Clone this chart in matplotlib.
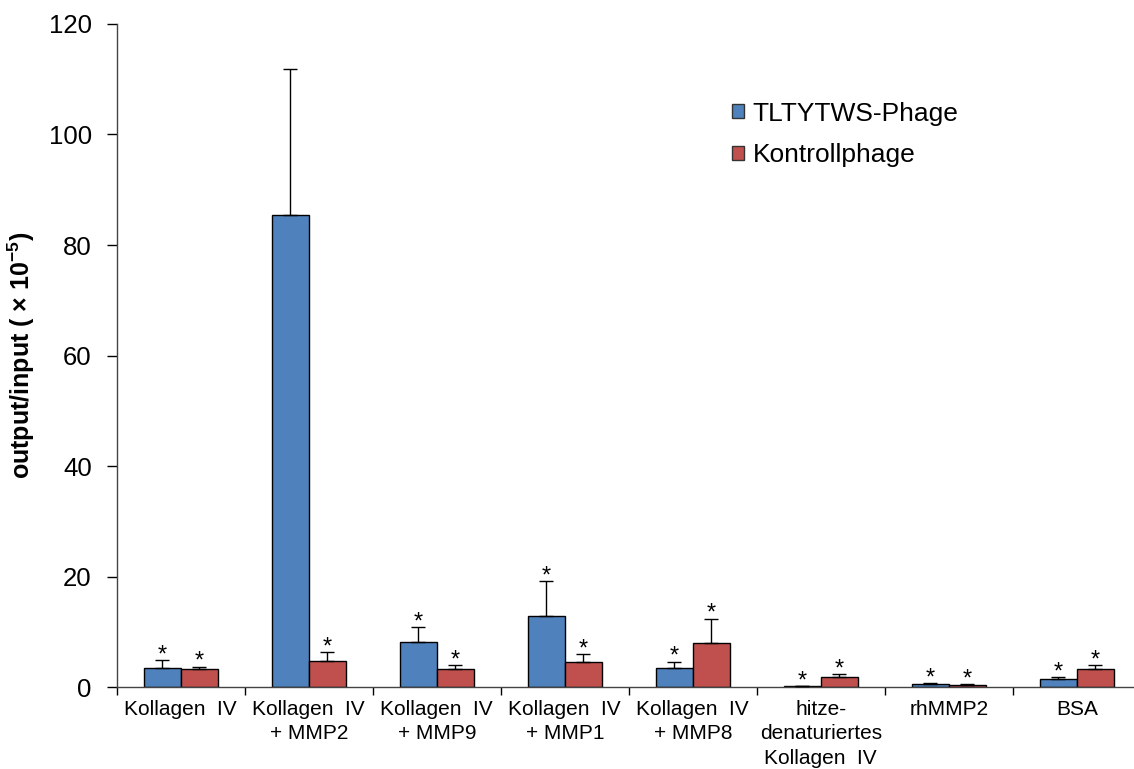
import matplotlib
matplotlib.use("Agg")
import matplotlib.pyplot as plt
import numpy as np
from matplotlib.patches import Patch

plt.rcParams['font.family'] = ['Liberation Sans', 'DejaVu Sans']
plt.rcParams['mathtext.fontset'] = 'custom'
plt.rcParams['mathtext.rm'] = 'Liberation Sans'
plt.rcParams['mathtext.bf'] = 'Liberation Sans:bold'

categories = ["Kollagen  IV", "Kollagen  IV\n+ MMP2", "Kollagen  IV\n+ MMP9",
              "Kollagen  IV\n+ MMP1", "Kollagen  IV\n+ MMP8",
              "hitze-\ndenaturiertes\nKollagen  IV", "rhMMP2", "BSA"]
tltytws = [3.5, 85.4, 8.2, 12.8, 3.5, 0.15, 0.6, 1.5]
tltytws_err = [1.4, 26.4, 2.6, 6.3, 1.1, 0.0, 0.1, 0.3]
tltytws_star = [True, False, True, True, True, True, True, True]
kontroll = [3.3, 4.8, 3.3, 4.6, 7.9, 1.9, 0.4, 3.3]
kontroll_err = [0.4, 1.6, 0.6, 1.3, 4.5, 0.4, 0.15, 0.6]
kontroll_star = [True, True, True, True, True, True, True, True]
series_names = ["TLTYTWS-Phage", "Kontrollphage"]
colors = ["#4F81BD", "#C0504D"]
yticks = [0, 20, 40, 60, 80, 100, 120]

fig = plt.figure(figsize=(11.34, 7.69), dpi=100)
ax = fig.add_axes([0.103, 0.1066, 0.903, 0.8622])

x = np.arange(len(categories))
w = 0.29
for vals, errs, stars, col, off in [(tltytws, tltytws_err, tltytws_star, colors[0], -w / 2),
                                    (kontroll, kontroll_err, kontroll_star, colors[1], w / 2)]:
    ax.bar(x + off, vals, width=w, color=col, edgecolor="black", linewidth=1.0, zorder=2)
    ax.errorbar(x + off, vals, yerr=[np.zeros(len(vals)), errs], fmt="none",
                ecolor="black", elinewidth=1.0, capsize=5, capthick=1.0, zorder=3)
    for xi, v, e, s in zip(x + off, vals, errs, stars):
        if s:
            ax.annotate("*", (xi, v + e), xytext=(0, -1), textcoords="offset points",
                        ha="center", va="baseline", fontsize=17)

ax.set_xlim(-0.5, len(categories) - 0.5)
ax.set_ylim(0, 120)
ax.set_yticks(yticks)
ax.tick_params(axis="y", labelsize=18.5, direction="out", length=7, width=1, pad=11)
ax.set_xticks(x)
ax.set_xticklabels(categories, fontsize=15, linespacing=1.38)
ax.tick_params(axis="x", which="major", length=0, pad=9)
ax.set_xticks(np.arange(len(categories) + 1) - 0.5, minor=True)
ax.tick_params(axis="x", which="minor", length=6, width=1, direction="out")
for s in ["top", "right"]:
    ax.spines[s].set_visible(False)
for s in ["left", "bottom"]:
    ax.spines[s].set_color("#444444")
    ax.spines[s].set_linewidth(1.0)

ax.yaxis.set_label_coords(-0.078, 0.5)
ax.set_ylabel(r"output/input ( × 10$^{\mathbf{-5}}$)", fontsize=18, fontweight="bold")

handles = [Patch(facecolor=c, edgecolor="#333333", linewidth=1) for c in colors]
fig.legend(handles, series_names, loc="upper left", bbox_to_anchor=(0.636, 0.8817),
           frameon=False, fontsize=19, handlelength=0.45, handleheight=0.45,
           handletextpad=0.34, labelspacing=0.67, borderaxespad=0)

fig.savefig("out.png", dpi=100)
